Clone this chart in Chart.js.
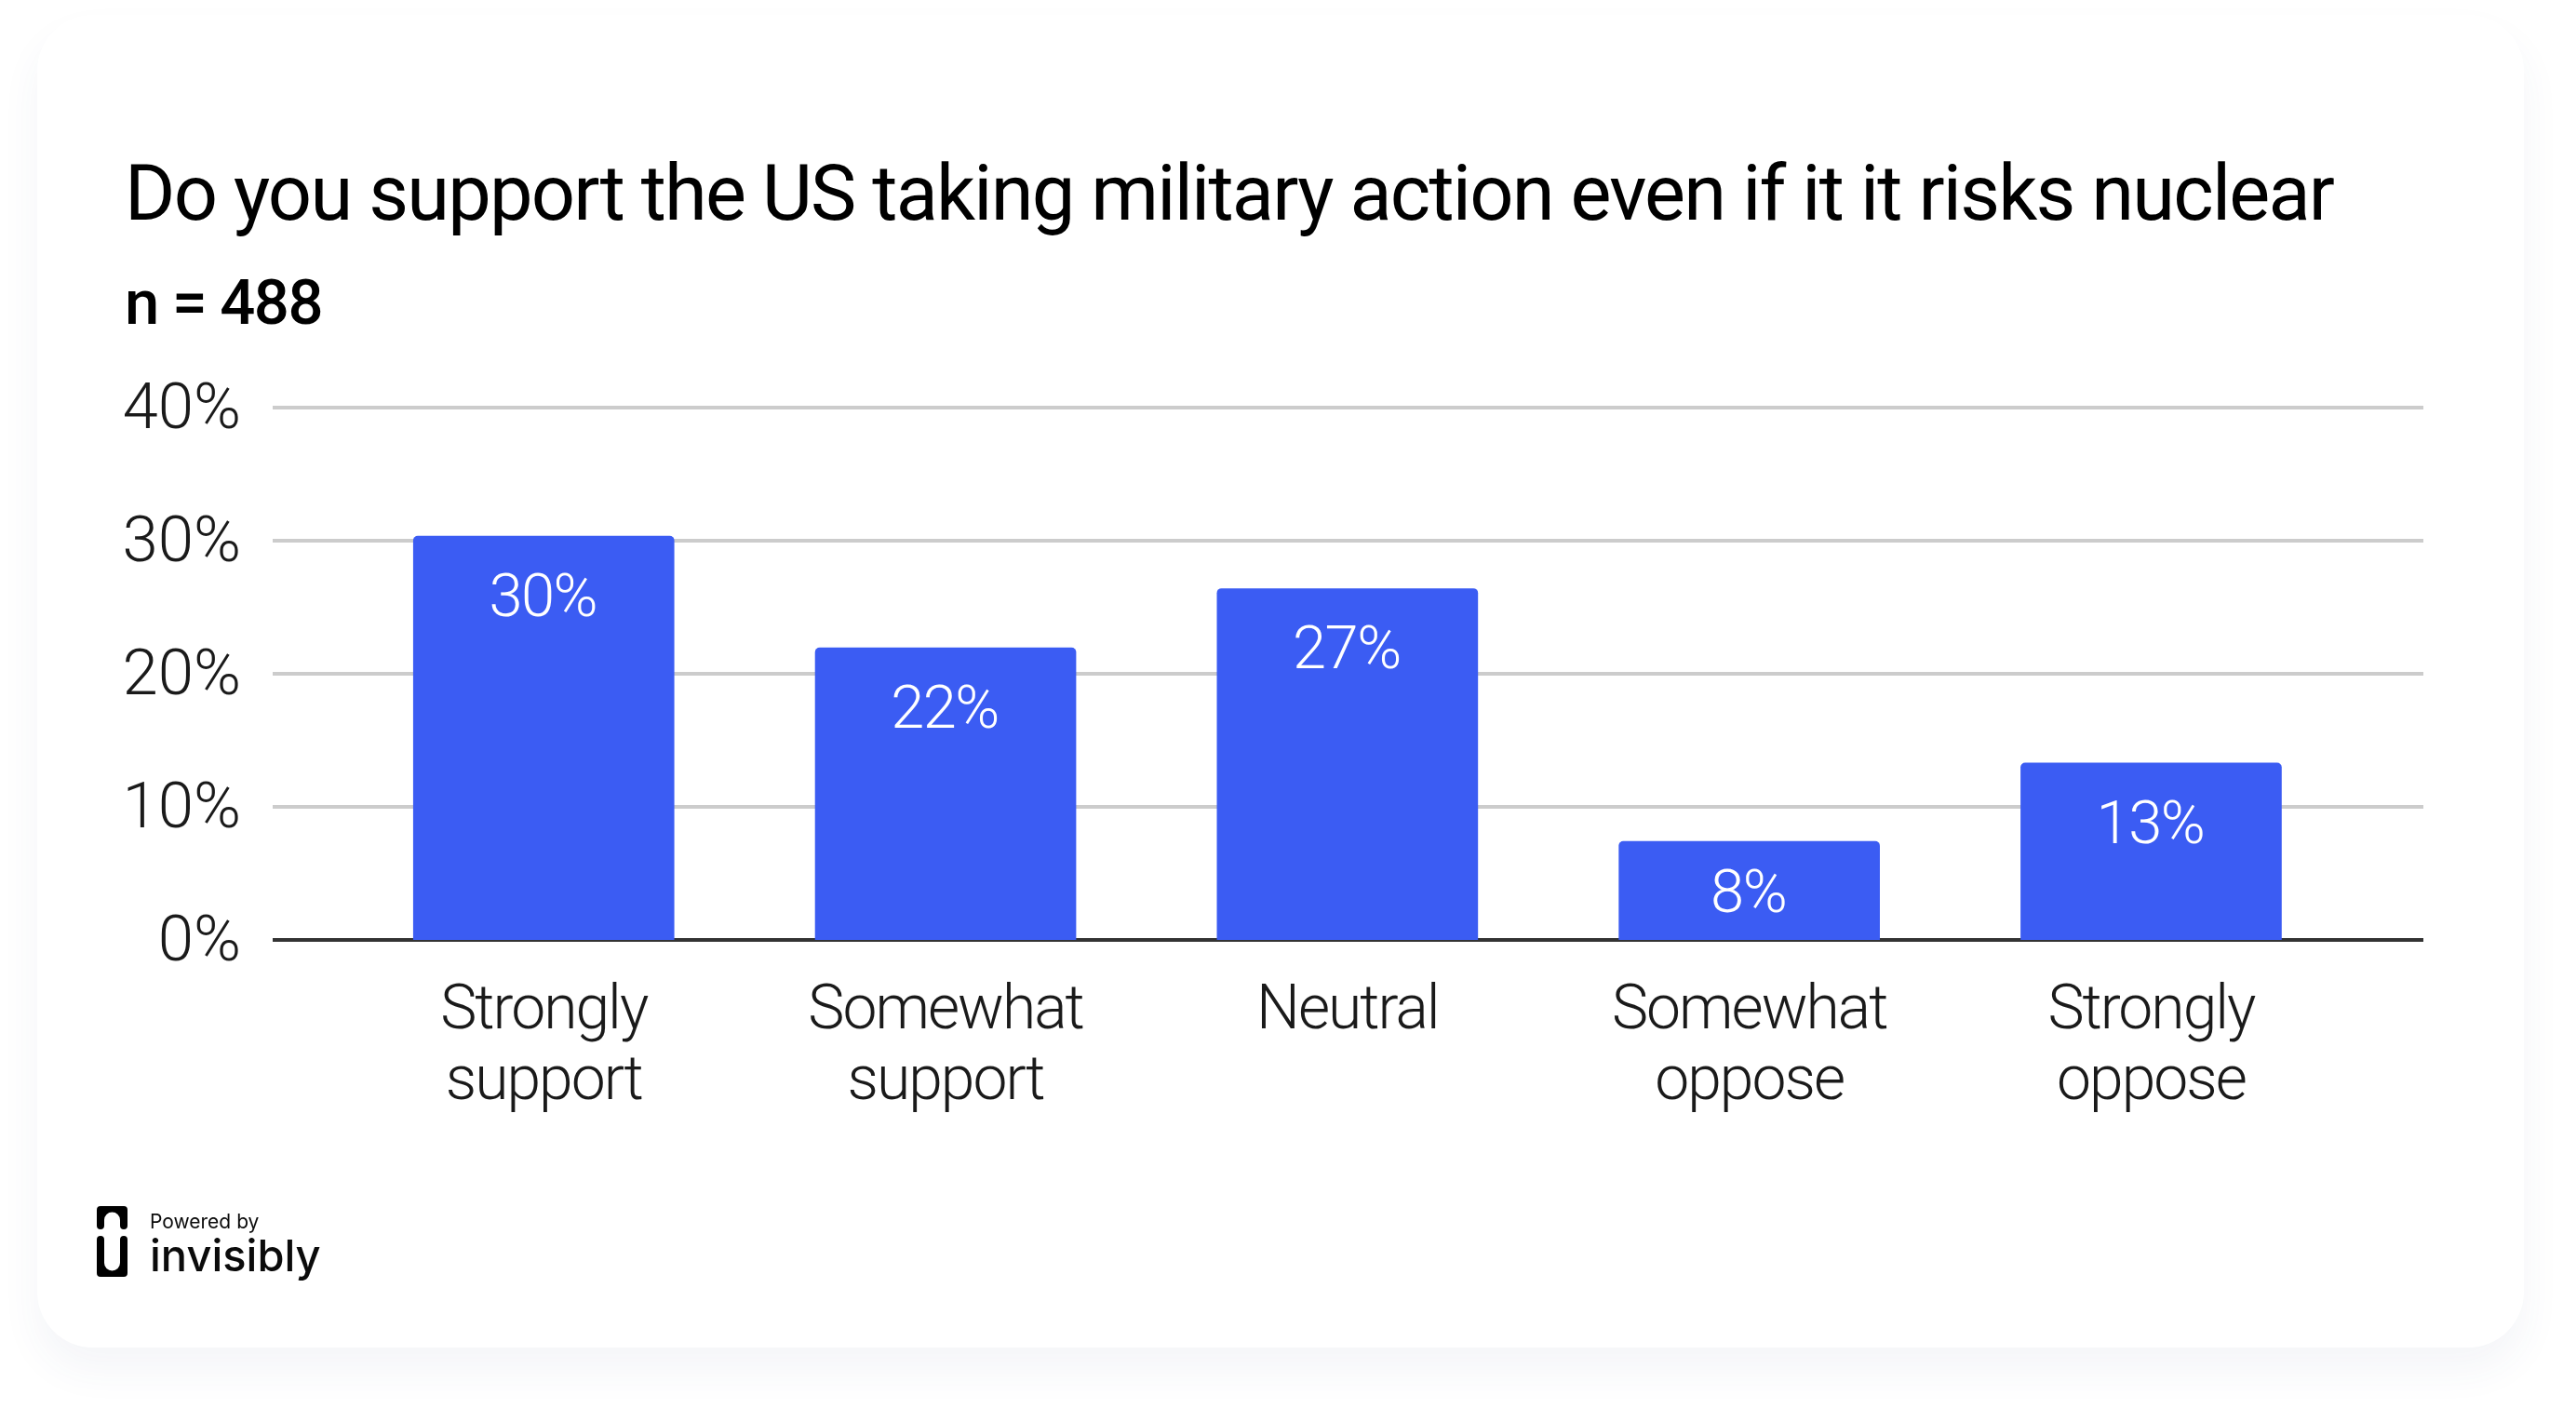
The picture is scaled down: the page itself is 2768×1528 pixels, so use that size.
<!DOCTYPE html>
<html><head><meta charset="utf-8">
<script src="https://cdn.jsdelivr.net/npm/chart.js@4"></script>
<style>
html,body{margin:0;padding:0;width:2768px;height:1528px;background:#fff;overflow:hidden}
#card{position:absolute;left:40px;top:16px;width:2672px;height:1432px;background:#fff;border-radius:60px;box-shadow:0 24px 44px rgba(60,70,120,.055)}
canvas{position:absolute;left:0;top:0}
#logo{position:absolute;left:104px;top:1296px}
.brand{position:absolute;color:#0b0b0b;white-space:nowrap;line-height:1}
#pw{left:161px;top:1300px;font:400 21px Inter}
#inv{left:161px;top:1320px;font:500 47px Inter}
</style></head><body>
<div id="card"></div>
<canvas id="c" width="2768" height="1528"></canvas>
<svg id="logo" width="33" height="76" viewBox="0 0 33 76"><path fill="#000" d="M4 0H29a4 4 0 0 1 4 4V21a4 4 0 0 1-8 0V15a8.500 8.500 0 0 0-17 0V21a4 4 0 0 1-8 0V4a4 4 0 0 1 4-4Z"/><path fill="#000" d="M4 32a4 4 0 0 1 4 4V61a8.500 8.500 0 0 0 17 0V36a4 4 0 0 1 8 0V72a4 4 0 0 1-4 4H4a4 4 0 0 1-4-4V36a4 4 0 0 1 4-4Z"/></svg>
<div class="brand" id="pw">Powered by</div>
<div class="brand" id="inv">invisibly</div>
<script>
const titleText = "Do you support the US taking military action even if it it risks nuclear";
const subtitleText = "n = 488";
const categories = [["Strongly","support"],["Somewhat","support"],["Neutral"],["Somewhat","oppose"],["Strongly","oppose"]];
const barValues = [30.35, 21.95, 26.4, 7.4, 13.3];
const valueLabels = ["30%","22%","27%","8%","13%"];
const yTicks = [0,10,20,30,40];
const barColor = "#3b5cf3";
const fontName = "Roboto";

// letter spacing and vertical nudge per text size, because Chart.js has no option for them
const textTweaks = {83:["-1.8px",0],67:["-1.5px",0],66:["-2px",0],65:["-1.5px",0],69:["0px",5]};
const ctxProto = CanvasRenderingContext2D.prototype;
const origFill = ctxProto.fillText;
ctxProto.fillText = function(t,x,y){
  const s = (this.font.match(/(\d+(?:\.\d+)?)px/)||[])[1];
  const tw = textTweaks[s] || ["0px",0];
  this.letterSpacing = tw[0];
  return origFill.call(this,t,x,y+tw[1]);
};

const valueLabelPlugin = {
  id:"valueLabels",
  afterDatasetsDraw(chart){
    const {ctx} = chart, bars = chart.getDatasetMeta(0).data;
    ctx.save();
    ctx.font = `300 65px ${fontName}`;
    ctx.fillStyle = "#fff";
    ctx.textAlign = "center";
    ctx.textBaseline = "alphabetic";
    bars.forEach((b,i)=>{
      const mid = (b.y+b.base)/2;
      ctx.fillText(valueLabels[i], b.x-1, Math.min(b.y+86, mid+22));
    });
    ctx.restore();
  }
};

new Chart(document.getElementById("c"),{
  type:"bar",
  plugins:[valueLabelPlugin],
  data:{labels:categories,datasets:[{data:barValues,backgroundColor:barColor,barThickness:280,base:-0.14,
    borderRadius:{topLeft:5,topRight:5,bottomLeft:0,bottomRight:0},borderSkipped:false}]},
  options:{
    responsive:false,animation:false,devicePixelRatio:1,
    layout:{padding:{left:134,right:164,top:165,bottom:318}},
    plugins:{
      legend:{display:false},tooltip:{enabled:false},
      title:{display:true,text:titleText,align:"start",color:"#000",
        font:{family:fontName,size:83,weight:"400",lineHeight:1.2},padding:{top:0,bottom:26}},
      subtitle:{display:true,text:subtitleText,align:"start",color:"#000",
        font:{family:fontName,size:67,weight:"500",lineHeight:1.2},padding:{top:0,bottom:67}}
    },
    scales:{
      x:{type:"category",offset:true,
        afterBuildTicks(s){s._startValue=-0.6745;s._valueRange=5.352;},
        afterFit(s){s.height=200;},
        grid:{display:false,drawTicks:false},border:{display:false},
        ticks:{autoSkip:false,maxRotation:0,minRotation:0,color:"#1a1a1a",padding:41,
          font:{family:fontName,size:66,weight:"300",lineHeight:1.15}}},
      y:{min:0,max:40,
        afterBuildTicks(s){s.ticks=yTicks.map(v=>({value:v}));},
        afterFit(s){s.width=159;},
        grid:{color:c=>c.tick.value===0?"#333":"#ccc",lineWidth:4,drawTicks:false},
        border:{display:false},
        ticks:{color:"#1a1a1a",padding:34,font:{family:fontName,size:69,weight:"300"},callback:v=>v+"%"}}
    }
  }
});
</script>
</body></html>
